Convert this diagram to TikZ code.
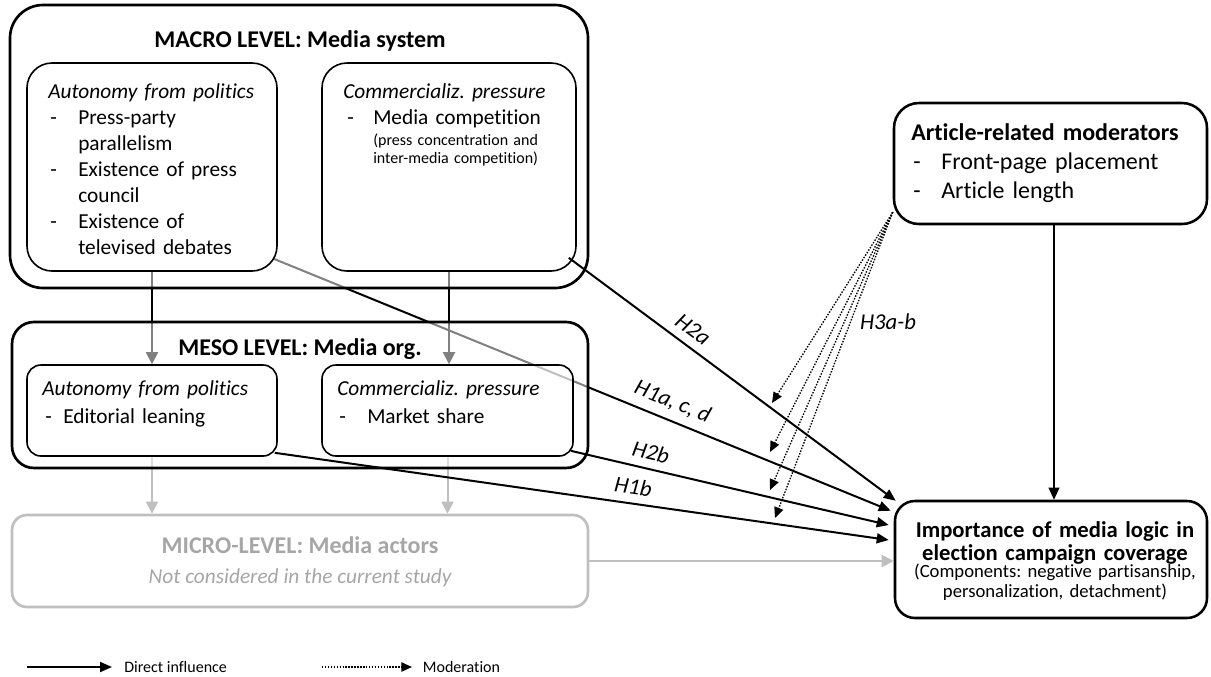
\documentclass[tikz,border=0pt]{standalone}
\usepackage{fontspec}
\setmainfont{Carlito}[Ligatures=NoCommon]
\usepackage{xcolor}
\usepackage{tikz}
\usetikzlibrary{arrows.meta,positioning,calc}
\definecolor{microline}{RGB}{191, 191, 191}
\definecolor{microtext}{RGB}{166, 166, 166}
\pgfdeclarelayer{background}
\pgfsetlayers{background,main}
\frenchspacing
\newcommand{\dashitem}[2]{\makebox[#1][l]{-}#2}
\tikzset{
    levelbox/.style={draw, line width=2pt, fill=white, fill opacity=0.5, rounded corners=#1, inner sep=0pt},
    subbox/.style={draw, line width=1.2pt, fill=white, fill opacity=0.5, rounded corners=#1, inner sep=0pt},
    varbox/.style={draw, line width=1.9pt, fill=white, rounded corners=#1, inner sep=0pt},
    titletext/.style={anchor=base, inner sep=0pt, font=\bfseries\fontsize{18}{21}\selectfont},
    bodytext/.style={anchor=base west, inner sep=0pt, align=left, text width=#1},
    hline/.style={line width=1.5pt, -{Triangle[length=9pt,width=7.5pt]}},
    modline/.style={line width=1pt, dash pattern=on 1.1pt off 1.1pt, -{Triangle[length=8pt,width=7pt]}},
    levelarrow/.style={line width=1.5pt, -{Triangle[length=9pt,width=9pt]}},
    microarrow/.style={line width=1.5pt, color=microline, -{Triangle[length=9pt,width=9pt]}},
    hlabel/.style={font=\itshape\fontsize{17}{20}\selectfont, inner sep=6pt},
    legendtext/.style={anchor=west, inner ysep=0pt, font=\fontsize{12}{14}\selectfont}
}

\begin{document}
\begin{tikzpicture}[x=0.75pt, y=-0.75pt]
    \useasboundingbox (0,0) rectangle (1211,676);

    % Macro level: media system
    \node[levelbox=24.75pt, minimum width=433.5pt, minimum height=212.25pt] (macro) at (299,146.5) {};
    \node[subbox=18.75pt, minimum width=187.5pt, minimum height=156pt] (macroA) at (152,167) {};
    \node[subbox=18.75pt, minimum width=190.5pt, minimum height=156pt] (macroB) at (449,167) {};
    \node[titletext] (macrotitle) at (300,47) {MACRO LEVEL: Media system};
    \node[bodytext=185pt, font=\fontsize{16}{19.6}\selectfont] (macroAtext) at (48,98) {\textit{Autonomy from politics}\\
        \hspace*{1.5pt}\dashitem{21pt}{Press-party}\\
        \hspace*{22.5pt}parallelism\\
        \hspace*{1.5pt}\dashitem{21pt}{Existence of press}\\
        \hspace*{22.5pt}council\\
        \hspace*{1.5pt}\dashitem{21pt}{Existence of}\\
        \hspace*{22.5pt}televised debates};
    \node[bodytext=185pt, font=\fontsize{16}{19.6}\selectfont] (macroBtext) at (343,98) {\textit{Commercializ. pressure}\\
        \hspace*{3pt}\dashitem{19.5pt}{Media competition}};
    \node[bodytext=150pt, font=\fontsize{12}{14}\selectfont] (macroBnote) at (373,145) {(press concentration and\\inter-media competition)};

    % Meso level: media organisation
    \node[levelbox=16.5pt, minimum width=432pt, minimum height=109.5pt] (meso) at (300,395) {};
    \node[subbox=10.5pt, minimum width=187.5pt, minimum height=68.25pt] (mesoA) at (152,410.5) {};
    \node[subbox=10.5pt, minimum width=188.25pt, minimum height=68.25pt] (mesoB) at (447.5,410.5) {};
    \node[titletext] (mesotitle) at (300,355) {MESO LEVEL: Media org.};
    \node[bodytext=180pt, font=\fontsize{16}{21}\selectfont] (mesoAtext) at (42,395) {\textit{Autonomy from politics}\\
        \hspace*{2.25pt}\dashitem{13.5pt}{Editorial leaning}};
    \node[bodytext=180pt, font=\fontsize{16}{21}\selectfont] (mesoBtext) at (337,395) {\textit{Commercializ. pressure}\\
        \hspace*{1.5pt}\dashitem{21pt}{Market share}};

    % Micro level (not studied)
    \node[draw=microline, line width=2pt, rounded corners=11.25pt, inner sep=0pt, minimum width=432pt, minimum height=69pt] (micro) at (300,561) {};
    \node[titletext, text=microtext] (microtitle) at (300,553) {MICRO-LEVEL: Media actors};
    \node[anchor=base, inner sep=0pt, text=microtext, font=\itshape\fontsize{16}{19}\selectfont] (micronote) at (300,583) {Not considered in the current study};

    % Moderators and outcome
    \node[varbox=18.75pt, minimum width=234.75pt, minimum height=90.75pt] (moder) at (1050.5,163.5) {};
    \node[bodytext=230pt, font=\fontsize{18}{21.75}\selectfont] (modertext) at (911,140) {\textbf{Article-related moderators}\\
        \hspace*{1.5pt}\dashitem{21pt}{Front-page placement}\\
        \hspace*{1.5pt}\dashitem{21pt}{Article length}};
    \node[varbox=15pt, minimum width=234pt, minimum height=87.75pt] (outcome) at (1051,559.5) {};
    \node[anchor=base, inner sep=0pt, align=center, text width=232pt, font=\bfseries\fontsize{17}{17.5}\selectfont] (outtitle) at (1055,537) {Importance of media logic in\\election campaign coverage};
    \node[anchor=base, inner sep=0pt, align=center, text width=232pt, font=\fontsize{14}{15}\selectfont] (outnote) at (1055,577) {(Components: negative partisanship,\\personalization, detachment)};

    % Connectors seen through the level boxes
    \begin{pgfonlayer}{background}
        \draw[levelarrow] (macroA.south) -- (macroA.south |- mesoA.north);
        \draw[levelarrow] (macroB.south) -- (macroB.south |- mesoB.north);
        \draw[microarrow] (mesoA.south) -- (mesoA.south |- micro.north);
        \draw[microarrow] (mesoB.south) -- (mesoB.south |- micro.north);
        \draw[hline] ($(macroA.south east)+(-4,-13)$) -- node[hlabel, pos=0.635, sloped, above] (lblH1a) {H1a, c, d} ($(outcome.north west)+(-3,11)$);
    \end{pgfonlayer}

    % Direct influences
    \draw[hline] ($(macroB.south east)+(-8,-14)$) -- node[hlabel, pos=0.35, sloped, above] (lblH2a) {H2a} ($(outcome.north west)+(2,1)$);
    \draw[hline] ($(mesoB.south east)+(-3,-6)$) -- node[hlabel, pos=0.24, sloped, above] (lblH2b) {H2b} ($(outcome.west)+(-5,-34.5)$);
    \draw[hline] ($(mesoA.south east)+(-3,-4)$) -- node[hlabel, pos=0.58, sloped, above] (lblH1b) {H1b} ($(outcome.west)+(-5,-19.5)$);
    \draw[microarrow] (micro.east) -- (micro.east -| outcome.west);
    \draw[line width=1.1pt, -{Triangle[length=9pt,width=8pt]}] ($(moder.south)+(3.5,0)$) -- ($(outcome.north)+(3,0)$);

    % Moderations
    \coordinate (modsrc) at ($(moder.south west)+(0,-13)$);
    \coordinate (mod1) at (772,403);
    \coordinate (mod2) at (770,452);
    \coordinate (mod3) at (770,490);
    \coordinate (mod4) at (775,518);
    \foreach \i in {1,...,4}
        \draw[modline] (modsrc) -- (mod\i);
    \node[hlabel] (lblH3) at (888,322) {H3a-b};

    % Legend
    \coordinate (legdir) at (27,667);
    \node[legendtext, inner xsep=9pt] (legdirlbl) at (112,667) {Direct influence};
    \draw[line width=1.5pt, -{Triangle[length=9pt,width=7.5pt]}] (legdir) -- (legdirlbl);
    \coordinate (legmod) at (322,667);
    \node[legendtext, inner xsep=8pt] (legmodlbl) at (412,667) {Moderation};
    \draw[modline] (legmod) -- (legmodlbl);
\end{tikzpicture}
\end{document}
